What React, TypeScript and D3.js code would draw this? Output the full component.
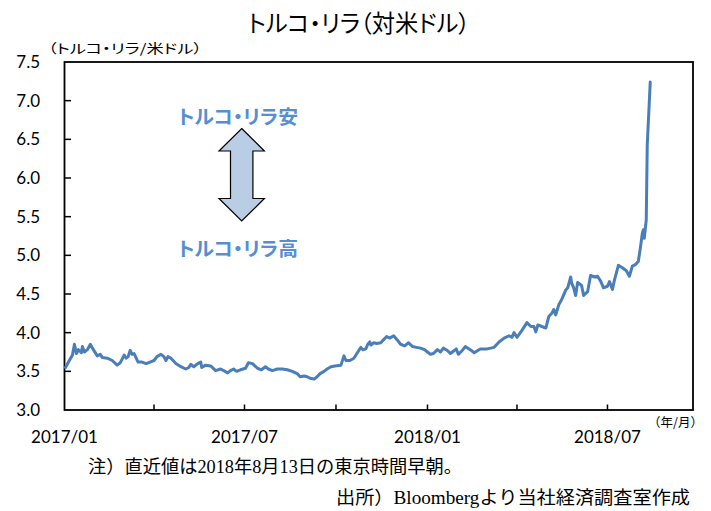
import React from "react";
import * as d3 from "d3";

const dates: string[] = [
  "2017-01-02","2017-01-05","2017-01-09","2017-01-11","2017-01-13","2017-01-15","2017-01-18","2017-01-19","2017-01-21","2017-01-24",
  "2017-01-27","2017-01-30","2017-02-03","2017-02-06","2017-02-08","2017-02-13","2017-02-18","2017-02-23","2017-02-26","2017-03-02",
  "2017-03-04","2017-03-06","2017-03-08","2017-03-10","2017-03-12","2017-03-16","2017-03-20","2017-03-24","2017-03-28","2017-04-01",
  "2017-04-04","2017-04-08","2017-04-11","2017-04-13","2017-04-15","2017-04-18","2017-04-23","2017-04-28","2017-05-03","2017-05-06",
  "2017-05-08","2017-05-11","2017-05-15","2017-05-18","2017-05-19","2017-05-23","2017-05-28","2017-06-02","2017-06-07","2017-06-10",
  "2017-06-14","2017-06-17","2017-06-20","2017-06-23","2017-06-27","2017-07-02","2017-07-05","2017-07-09","2017-07-14","2017-07-18",
  "2017-07-22","2017-07-25","2017-07-29","2017-08-03","2017-08-08","2017-08-13","2017-08-18","2017-08-23","2017-08-26","2017-08-30",
  "2017-09-02","2017-09-05","2017-09-09","2017-09-12","2017-09-15","2017-09-19","2017-09-22","2017-09-26","2017-09-30","2017-10-06",
  "2017-10-09","2017-10-11","2017-10-15","2017-10-19","2017-10-22","2017-10-26","2017-10-28","2017-10-31","2017-11-02","2017-11-04",
  "2017-11-05","2017-11-08","2017-11-11","2017-11-15","2017-11-18","2017-11-21","2017-11-24","2017-11-28","2017-12-02","2017-12-05",
  "2017-12-09","2017-12-13","2017-12-17","2017-12-21","2017-12-25","2017-12-29","2018-01-01","2018-01-04","2018-01-07","2018-01-11",
  "2018-01-14","2018-01-17","2018-01-21","2018-01-24","2018-01-27","2018-01-30","2018-02-01","2018-02-05","2018-02-08","2018-02-13",
  "2018-02-17","2018-02-23","2018-03-02","2018-03-09","2018-03-14","2018-03-19","2018-03-24","2018-03-27","2018-03-29","2018-04-01",
  "2018-04-06","2018-04-11","2018-04-15","2018-04-18","2018-04-20","2018-04-22","2018-04-26","2018-04-30","2018-05-03","2018-05-06",
  "2018-05-08","2018-05-10","2018-05-13","2018-05-16","2018-05-20","2018-05-22","2018-05-25","2018-05-26","2018-05-28","2018-05-30",
  "2018-06-01","2018-06-05","2018-06-07","2018-06-11","2018-06-14","2018-06-18","2018-06-21","2018-06-24","2018-06-27","2018-07-01",
  "2018-07-03","2018-07-06","2018-07-08","2018-07-12","2018-07-16","2018-07-20","2018-07-23","2018-07-26","2018-07-29","2018-08-01",
  "2018-08-03","2018-08-05","2018-08-06","2018-08-07","2018-08-09","2018-08-10","2018-08-13"
];

const rates: number[] = [
  3.55,3.62,3.71,3.85,3.73,3.78,3.74,3.82,3.75,3.78,
  3.85,3.78,3.70,3.72,3.68,3.67,3.64,3.58,3.61,3.71,
  3.67,3.69,3.77,3.72,3.73,3.62,3.62,3.60,3.62,3.64,
  3.69,3.72,3.69,3.64,3.69,3.67,3.60,3.56,3.53,3.55,
  3.59,3.56,3.60,3.62,3.55,3.58,3.57,3.51,3.53,3.51,
  3.48,3.51,3.53,3.50,3.52,3.54,3.61,3.60,3.54,3.52,
  3.56,3.53,3.51,3.53,3.53,3.52,3.50,3.47,3.43,3.44,
  3.43,3.41,3.40,3.43,3.47,3.50,3.53,3.56,3.57,3.58,
  3.70,3.64,3.64,3.67,3.73,3.81,3.78,3.79,3.85,3.88,
  3.84,3.87,3.86,3.87,3.91,3.95,3.93,3.96,3.90,3.85,
  3.83,3.87,3.82,3.81,3.80,3.78,3.75,3.72,3.73,3.78,
  3.75,3.80,3.77,3.73,3.76,3.79,3.72,3.77,3.82,3.78,
  3.74,3.79,3.79,3.81,3.88,3.93,3.96,3.94,4.00,3.94,
  4.03,4.13,4.08,4.08,4.01,4.10,4.08,4.06,4.21,4.25,
  4.30,4.23,4.36,4.43,4.55,4.58,4.72,4.64,4.58,4.48,
  4.65,4.61,4.48,4.53,4.74,4.72,4.73,4.67,4.58,4.60,
  4.66,4.56,4.68,4.87,4.84,4.80,4.73,4.86,4.88,4.92,
  5.09,5.28,5.33,5.22,5.46,6.43,7.24
];

const yTicks: number[] = [3.0, 3.5, 4.0, 4.5, 5.0, 5.5, 6.0, 6.5, 7.0, 7.5];
const xDomain: string[] = ["2017-01-01", "2018-09-25"];
const labelMonths: number[] = [0, 6];

const title = "トルコ・リラ（対米ドル）";
const yUnit = "（トルコ・リラ/米ドル）";
const xUnit = "（年/月）";
const upLabel = "トルコ・リラ安";
const downLabel = "トルコ・リラ高";
const note = "注）直近値は2018年8月13日の東京時間早朝。";
const source = "出所）Bloombergより当社経済調査室作成";

const W = 711, H = 511;
const L = 64.5, R = 693, T = 62, B = 410;

const jp = '"Noto Sans CJK JP", sans-serif';
const num = 'Lato, "Open Sans", sans-serif';
const mixed = '"Liberation Serif", "Noto Sans CJK JP", serif';
const palt = { fontFeatureSettings: '"palt"' };

export default function App() {
  const parse = d3.utcParse("%Y-%m-%d");
  const data = dates.map((d, i) => ({ date: parse(d) as Date, v: rates[i] }));
  const x = d3.scaleUtc().domain(xDomain.map((d) => parse(d) as Date)).range([L, R]);
  const y = d3.scaleLinear().domain([3, 7.5]).range([B, T]);
  const line = d3.line<{ date: Date; v: number }>().x((d) => x(d.date)).y((d) => y(d.v));
  const xTicks = x.ticks(d3.utcMonth.every(3) as d3.TimeInterval);
  const fmt = d3.utcFormat("%Y/%m");

  // arrow geometry
  const ax = 241.7, aTop = 128.5, aBot = 221, hw = 22.7, hh = 22.5, sw = 11.2;
  const arrow = [
    [ax, aTop], [ax + hw, aTop + hh], [ax + sw, aTop + hh], [ax + sw, aBot - hh],
    [ax + hw, aBot - hh], [ax, aBot], [ax - hw, aBot - hh], [ax - sw, aBot - hh],
    [ax - sw, aTop + hh], [ax - hw, aTop + hh],
  ].map((p) => p.join(",")).join(" ");

  return (
    <div style={{ position: "absolute", left: 0, top: 0 }}>
      <svg width={W} height={H} viewBox={`0 0 ${W} ${H}`} style={{ display: "block", background: "#fff" }}>
        <text x={359} y={32} textAnchor="middle" fontFamily={jp} fontSize={24} fill="#000"
          textLength={222} lengthAdjust="spacingAndGlyphs" style={palt}>{title}</text>
        <text x={48} y={53} fontFamily={jp} fontSize={13} fill="#000" textLength={154}
          lengthAdjust="spacingAndGlyphs" style={palt}>{yUnit}</text>

        {/* plot frame */}
        <rect x={L} y={T} width={R - L} height={B - T} fill="none" stroke="#000" strokeWidth={1.8} />

        {/* y ticks */}
        {yTicks.map((t) => (
          <g key={"y" + t}>
            {t > 3 && t < 7.5 && <line x1={L} x2={L + 6.5} y1={y(t)} y2={y(t)} stroke="#000" strokeWidth={1.5} />}
            <text x={40} y={y(t) + 6} textAnchor="end" fontFamily={num} fontSize={17} fill="#000">{t.toFixed(1)}</text>
          </g>
        ))}

        {/* x ticks */}
        {xTicks.map((t) => (
          <g key={"x" + t.getTime()}>
            {x(t) > L + 1 && x(t) < R - 1 && <line x1={x(t)} x2={x(t)} y1={B} y2={B - 5.5} stroke="#000" strokeWidth={1.5} />}
            {labelMonths.includes(t.getUTCMonth()) && (
              <text x={x(t)} y={443} textAnchor="middle" fontFamily={num} fontSize={17} fill="#000">{fmt(t)}</text>
            )}
          </g>
        ))}
        <text x={648} y={427} fontFamily={jp} fontSize={12.5} fill="#000">{xUnit}</text>

        {/* series */}
        <path d={line(data) || ""} fill="none" stroke="#4A7EBB" strokeWidth={3} strokeLinejoin="round" strokeLinecap="round" />

        {/* annotation */}
        <text x={238} y={124} textAnchor="middle" fontFamily={jp} fontWeight={700} fontSize={19.5} fill="#558ED5"
          textLength={120} lengthAdjust="spacingAndGlyphs" style={palt}>{upLabel}</text>
        <polygon points={arrow} fill="#B9CDE5" stroke="#000" strokeWidth={1.2} strokeLinejoin="miter" />
        <text x={238} y={256} textAnchor="middle" fontFamily={jp} fontWeight={700} fontSize={19.5} fill="#558ED5"
          textLength={120} lengthAdjust="spacingAndGlyphs" style={palt}>{downLabel}</text>

        {/* notes */}
        <text x={88} y={473} fontFamily={mixed} fontSize={18} fill="#000"
          textLength={374} lengthAdjust="spacingAndGlyphs">{note}</text>
        <text x={336} y={504} fontFamily={mixed} fontSize={18} fill="#000"
          textLength={354} lengthAdjust="spacingAndGlyphs">{source}</text>
      </svg>
    </div>
  );
}
